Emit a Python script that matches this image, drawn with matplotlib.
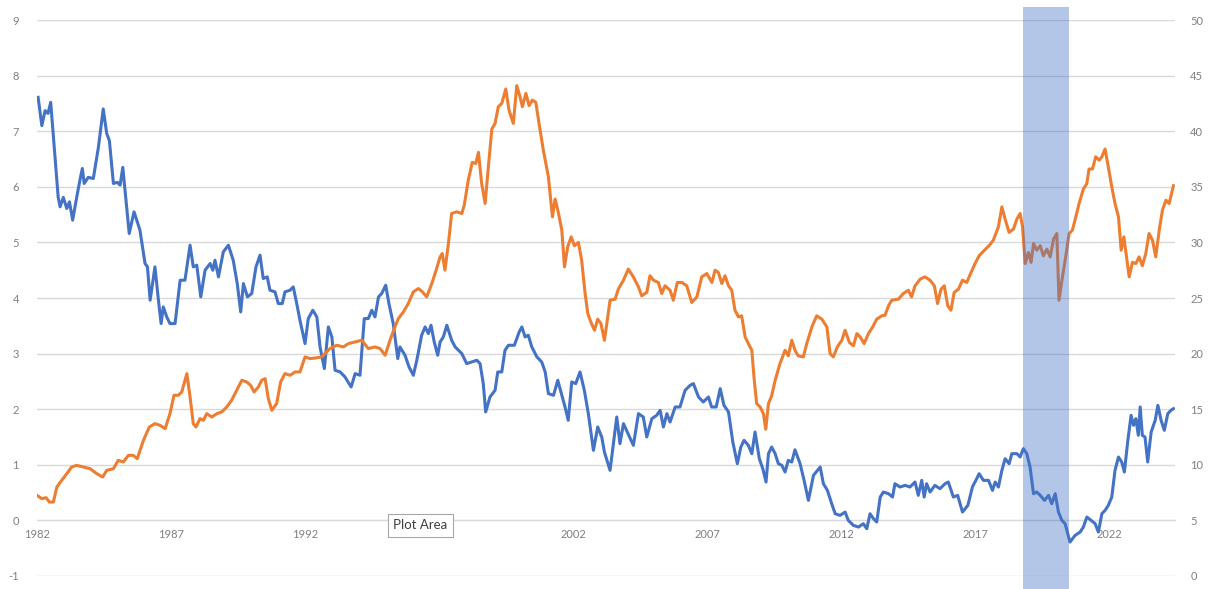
import matplotlib
matplotlib.use("Agg")
import matplotlib.pyplot as plt

plt.rcParams['font.family'] = ['Lato', 'DejaVu Sans']
plt.rcParams['axes.unicode_minus'] = False

# blue series, left axis (year, value)
blue_years = [1982.04, 1982.18, 1982.30, 1982.41, 1982.51, 1982.79, 1982.86, 1982.98, 1983.11, 1983.21,
              1983.33, 1983.48, 1983.60, 1983.69, 1983.76, 1983.91, 1984.10, 1984.29, 1984.47, 1984.60,
              1984.70, 1984.85, 1985.00, 1985.10, 1985.20, 1985.44, 1985.62, 1985.84, 1986.03, 1986.12,
              1986.22, 1986.40, 1986.53, 1986.63, 1986.71, 1986.84, 1986.96, 1987.15, 1987.34, 1987.52,
              1987.71, 1987.83, 1987.96, 1988.11, 1988.27, 1988.46, 1988.56, 1988.64, 1988.77, 1988.95,
              1989.14, 1989.32, 1989.47, 1989.60, 1989.70, 1989.85, 1990.01, 1990.17, 1990.32, 1990.44,
              1990.59, 1990.69, 1990.88, 1991.00, 1991.15, 1991.25, 1991.44, 1991.56, 1991.69, 1991.81,
              1992.00, 1992.12, 1992.29, 1992.44, 1992.56, 1992.72, 1992.87, 1993.00, 1993.12, 1993.31,
              1993.49, 1993.72, 1993.87, 1994.05, 1994.21, 1994.36, 1994.49, 1994.61, 1994.74, 1994.86,
              1995.01, 1995.13, 1995.29, 1995.46, 1995.54, 1995.73, 1995.88, 1996.04, 1996.17, 1996.35,
              1996.48, 1996.60, 1996.70, 1996.82, 1996.95, 1997.04, 1997.16, 1997.29, 1997.47, 1997.60,
              1997.85, 1998.03, 1998.22, 1998.41, 1998.53, 1998.65, 1998.74, 1998.90, 1999.09, 1999.19,
              1999.34, 1999.46, 1999.59, 1999.81, 1999.99, 2000.09, 2000.21, 2000.33, 2000.46, 2000.65,
              2000.83, 2000.96, 2001.08, 2001.27, 2001.43, 2001.58, 2001.70, 2001.82, 2001.95, 2002.10,
              2002.26, 2002.42, 2002.57, 2002.76, 2002.92, 2003.07, 2003.17, 2003.38, 2003.63, 2003.75,
              2003.88, 2004.25, 2004.44, 2004.62, 2004.75, 2004.94, 2005.12, 2005.25, 2005.37, 2005.50,
              2005.62, 2005.81, 2005.99, 2006.18, 2006.37, 2006.49, 2006.68, 2006.86, 2007.05, 2007.17,
              2007.34, 2007.49, 2007.63, 2007.80, 2007.96, 2008.13, 2008.26, 2008.38, 2008.54, 2008.67,
              2008.79, 2008.95, 2009.08, 2009.20, 2009.29, 2009.41, 2009.54, 2009.66, 2009.79, 2009.91,
              2010.03, 2010.16, 2010.28, 2010.47, 2010.62, 2010.78, 2010.97, 2011.22, 2011.34, 2011.49,
              2011.65, 2011.78, 2011.96, 2012.15, 2012.27, 2012.46, 2012.65, 2012.83, 2012.96, 2013.08,
              2013.21, 2013.33, 2013.46, 2013.58, 2013.77, 2013.92, 2014.01, 2014.20, 2014.39, 2014.57,
              2014.76, 2014.88, 2015.01, 2015.10, 2015.19, 2015.32, 2015.50, 2015.69, 2015.88, 2016.00,
              2016.19, 2016.35, 2016.53, 2016.73, 2016.90, 2017.06, 2017.15, 2017.31, 2017.50, 2017.65,
              2017.75, 2017.87, 2018.00, 2018.12, 2018.27, 2018.37, 2018.56, 2018.68, 2018.80, 2018.93,
              2019.05, 2019.18, 2019.30, 2019.43, 2019.59, 2019.74, 2019.86, 2019.99, 2020.11, 2020.24,
              2020.36, 2020.54, 2020.73, 2020.92, 2021.04, 2021.17, 2021.33, 2021.48, 2021.60, 2021.73,
              2021.85, 2021.97, 2022.10, 2022.22, 2022.35, 2022.47, 2022.57, 2022.70, 2022.82, 2022.91,
              2023.00, 2023.09, 2023.16, 2023.24, 2023.34, 2023.44, 2023.57, 2023.72, 2023.82, 2023.94,
              2024.06, 2024.19, 2024.31, 2024.40]
blue_vals = [7.61, 7.10, 7.37, 7.32, 7.52, 5.81, 5.64, 5.81, 5.61, 5.73,
             5.40, 5.81, 6.12, 6.33, 6.06, 6.17, 6.15, 6.71, 7.40, 6.96,
             6.83, 6.06, 6.08, 6.03, 6.35, 5.16, 5.55, 5.22, 4.62, 4.56,
             3.96, 4.56, 3.96, 3.54, 3.84, 3.66, 3.54, 3.54, 4.32, 4.32,
             4.95, 4.56, 4.59, 4.02, 4.50, 4.62, 4.50, 4.68, 4.38, 4.83,
             4.95, 4.68, 4.26, 3.75, 4.26, 4.02, 4.08, 4.56, 4.77, 4.35,
             4.38, 4.14, 4.11, 3.90, 3.90, 4.11, 4.14, 4.20, 3.90, 3.60,
             3.18, 3.63, 3.78, 3.66, 3.12, 2.73, 3.48, 3.30, 2.70, 2.67,
             2.58, 2.40, 2.64, 2.61, 3.63, 3.63, 3.78, 3.66, 4.02, 4.08,
             4.23, 3.90, 3.54, 2.91, 3.12, 2.97, 2.76, 2.61, 2.88, 3.33,
             3.48, 3.36, 3.51, 3.21, 2.97, 3.21, 3.30, 3.51, 3.24, 3.12,
             3.00, 2.82, 2.85, 2.88, 2.82, 2.46, 1.95, 2.22, 2.34, 2.67,
             2.67, 3.06, 3.15, 3.15, 3.39, 3.48, 3.30, 3.33, 3.12, 2.94,
             2.85, 2.67, 2.28, 2.25, 2.52, 2.25, 2.04, 1.80, 2.49, 2.46,
             2.67, 2.34, 1.92, 1.26, 1.68, 1.50, 1.23, 0.90, 1.86, 1.38,
             1.74, 1.35, 1.92, 1.86, 1.50, 1.83, 1.89, 1.98, 1.68, 1.92,
             1.77, 2.04, 2.04, 2.34, 2.43, 2.46, 2.22, 2.13, 2.22, 2.04,
             2.04, 2.37, 2.07, 1.95, 1.41, 1.02, 1.32, 1.44, 1.35, 1.20,
             1.59, 1.11, 0.93, 0.69, 1.20, 1.32, 1.20, 1.02, 0.99, 0.87,
             1.08, 1.05, 1.27, 1.02, 0.72, 0.36, 0.81, 0.96, 0.66, 0.54,
             0.30, 0.12, 0.09, 0.15, 0.00, -0.09, -0.12, -0.06, -0.15, 0.12,
             0.03, -0.03, 0.42, 0.51, 0.48, 0.42, 0.66, 0.60, 0.63, 0.60,
             0.69, 0.45, 0.72, 0.42, 0.66, 0.51, 0.63, 0.57, 0.66, 0.69,
             0.42, 0.45, 0.15, 0.27, 0.60, 0.75, 0.84, 0.72, 0.72, 0.54,
             0.69, 0.60, 0.90, 1.11, 1.02, 1.20, 1.20, 1.14, 1.29, 1.20,
             0.96, 0.48, 0.51, 0.45, 0.36, 0.45, 0.30, 0.48, 0.15, 0.00,
             -0.06, -0.39, -0.27, -0.21, -0.12, 0.06, 0.00, -0.06, -0.21, 0.12,
             0.18, 0.27, 0.42, 0.90, 1.14, 1.05, 0.87, 1.44, 1.89, 1.71,
             1.83, 1.53, 2.04, 1.53, 1.50, 1.05, 1.59, 1.80, 2.07, 1.80,
             1.62, 1.92, 1.98, 2.01]

# orange series, right axis (year, value)
orange_years = [1982.00, 1982.18, 1982.34, 1982.46, 1982.61, 1982.74, 1982.92, 1983.11, 1983.29, 1983.48,
                1983.73, 1983.98, 1984.23, 1984.45, 1984.60, 1984.85, 1985.03, 1985.22, 1985.41, 1985.59,
                1985.74, 1985.97, 1986.19, 1986.40, 1986.59, 1986.78, 1986.96, 1987.11, 1987.27, 1987.40,
                1987.59, 1987.71, 1987.83, 1987.93, 1988.08, 1988.21, 1988.33, 1988.52, 1988.71, 1988.89,
                1989.08, 1989.26, 1989.45, 1989.64, 1989.82, 1989.97, 1990.10, 1990.26, 1990.38, 1990.51,
                1990.63, 1990.76, 1990.94, 1991.09, 1991.25, 1991.44, 1991.63, 1991.81, 1992.00, 1992.19,
                1992.37, 1992.62, 1992.93, 1993.18, 1993.43, 1993.62, 1993.87, 1994.12, 1994.36, 1994.61,
                1994.80, 1994.99, 1995.17, 1995.33, 1995.48, 1995.67, 1995.85, 1996.04, 1996.23, 1996.38,
                1996.54, 1996.73, 1996.91, 1997.04, 1997.12, 1997.22, 1997.35, 1997.47, 1997.66, 1997.85,
                1997.94, 1998.09, 1998.24, 1998.37, 1998.47, 1998.59, 1998.72, 1998.84, 1998.97, 1999.09,
                1999.21, 1999.34, 1999.49, 1999.61, 1999.77, 1999.90, 2000.02, 2000.11, 2000.24, 2000.36,
                2000.48, 2000.61, 2000.73, 2000.89, 2001.08, 2001.23, 2001.33, 2001.45, 2001.58, 2001.68,
                2001.80, 2001.93, 2002.05, 2002.20, 2002.32, 2002.45, 2002.55, 2002.67, 2002.80, 2002.92,
                2003.04, 2003.17, 2003.26, 2003.38, 2003.57, 2003.69, 2003.88, 2004.06, 2004.25, 2004.44,
                2004.56, 2004.75, 2004.87, 2005.00, 2005.18, 2005.31, 2005.43, 2005.62, 2005.74, 2005.89,
                2006.06, 2006.24, 2006.43, 2006.62, 2006.80, 2006.99, 2007.18, 2007.30, 2007.42, 2007.55,
                2007.67, 2007.80, 2007.92, 2008.04, 2008.17, 2008.29, 2008.42, 2008.54, 2008.67, 2008.75,
                2008.85, 2008.98, 2009.10, 2009.19, 2009.29, 2009.41, 2009.54, 2009.72, 2009.91, 2010.03,
                2010.16, 2010.28, 2010.40, 2010.59, 2010.72, 2010.91, 2011.09, 2011.28, 2011.47, 2011.59,
                2011.71, 2011.86, 2012.03, 2012.15, 2012.31, 2012.46, 2012.59, 2012.71, 2012.86, 2013.02,
                2013.18, 2013.33, 2013.52, 2013.64, 2013.77, 2013.89, 2014.14, 2014.32, 2014.51, 2014.63,
                2014.76, 2014.95, 2015.13, 2015.32, 2015.48, 2015.60, 2015.73, 2015.85, 2015.98, 2016.10,
                2016.22, 2016.38, 2016.53, 2016.69, 2016.85, 2017.00, 2017.15, 2017.35, 2017.52, 2017.68,
                2017.87, 2018.00, 2018.12, 2018.27, 2018.43, 2018.56, 2018.68, 2018.77, 2018.87, 2018.99,
                2019.09, 2019.18, 2019.30, 2019.43, 2019.55, 2019.68, 2019.80, 2019.93, 2020.05, 2020.13,
                2020.26, 2020.38, 2020.51, 2020.63, 2020.76, 2020.88, 2021.04, 2021.17, 2021.25, 2021.38,
                2021.50, 2021.63, 2021.73, 2021.85, 2021.97, 2022.10, 2022.22, 2022.35, 2022.45, 2022.55,
                2022.65, 2022.75, 2022.87, 2023.00, 2023.12, 2023.24, 2023.37, 2023.49, 2023.62, 2023.74,
                2023.87, 2023.99, 2024.12, 2024.24, 2024.40]
orange_vals = [7.25, 6.95, 7.04, 6.65, 6.65, 8.0, 8.6, 9.2, 9.8, 9.95,
               9.8, 9.65, 9.2, 8.9, 9.5, 9.65, 10.4, 10.25, 10.85, 10.85,
               10.55, 12.2, 13.4, 13.7, 13.55, 13.25, 14.6, 16.25, 16.25, 16.55,
               18.2, 16.1, 13.7, 13.4, 14.15, 14.0, 14.6, 14.3, 14.6, 14.75,
               15.2, 15.8, 16.7, 17.6, 17.45, 17.15, 16.55, 17.0, 17.6, 17.75,
               15.95, 14.9, 15.5, 17.45, 18.2, 18.05, 18.35, 18.35, 19.7, 19.55,
               19.6, 19.7, 20.45, 20.75, 20.6, 20.9, 21.05, 21.2, 20.45, 20.6,
               20.45, 19.85, 21.2, 22.25, 23.15, 23.75, 24.5, 25.55, 25.85, 25.55,
               25.1, 26.3, 27.65, 28.7, 29.0, 27.5, 29.9, 32.6, 32.75, 32.6,
               33.35, 35.6, 37.2, 37.1, 38.1, 35.3, 33.5, 36.8, 40.2, 40.7,
               42.2, 42.5, 43.8, 41.9, 40.7, 44.1, 43.1, 42.2, 43.4, 42.3,
               42.8, 42.6, 40.7, 38.3, 35.9, 32.3, 33.9, 32.7, 31.1, 27.8,
               29.6, 30.5, 29.7, 30.0, 28.4, 25.4, 23.6, 22.8, 22.1, 23.1,
               22.7, 21.2, 22.7, 24.8, 24.9, 25.8, 26.6, 27.6, 26.9, 26.0,
               25.2, 25.5, 27.0, 26.6, 26.4, 25.4, 26.1, 25.7, 24.8, 26.4,
               26.4, 26.1, 24.6, 25.1, 26.9, 27.2, 26.4, 27.5, 27.3, 26.3,
               27.0, 26.1, 25.7, 23.9, 23.3, 23.4, 21.5, 20.9, 20.3, 17.9,
               15.5, 15.2, 14.6, 13.2, 15.5, 16.2, 17.6, 19.1, 20.3, 19.8,
               21.2, 20.3, 19.8, 19.7, 20.9, 22.4, 23.4, 23.1, 22.4, 20.0,
               19.7, 20.6, 21.2, 22.1, 21.0, 20.7, 21.8, 21.5, 20.9, 21.8,
               22.4, 23.1, 23.4, 23.45, 24.3, 24.8, 24.9, 25.4, 25.7, 25.1,
               26.1, 26.7, 26.9, 26.6, 26.1, 24.5, 25.8, 26.1, 24.3, 23.9,
               25.5, 25.8, 26.6, 26.4, 27.3, 28.1, 28.8, 29.3, 29.7, 30.2,
               31.4, 33.2, 32.1, 30.9, 31.2, 32.1, 32.6, 31.4, 28.1, 29.1,
               28.2, 29.9, 29.3, 29.7, 28.8, 29.4, 28.7, 30.3, 30.8, 24.8,
               26.9, 28.7, 30.8, 31.1, 32.3, 33.5, 34.8, 35.3, 36.6, 36.6,
               37.7, 37.4, 37.7, 38.4, 36.8, 35.0, 33.5, 32.3, 29.3, 30.5,
               28.7, 26.9, 28.2, 28.1, 28.7, 27.9, 29.0, 30.8, 30.2, 28.7,
               31.1, 32.9, 33.8, 33.5, 35.1]

x_ticks = [1982, 1987, 1992, 1997, 2002, 2007, 2012, 2017, 2022]
left_ticks = list(range(-1, 10))
right_ticks = list(range(0, 55, 5))
band = (2018.77, 2020.52)

blue = '#4472C4'
orange = '#ED7D31'
grid = '#D9D9D9'
label_col = '#7F7F7F'

fig = plt.figure(figsize=(12.1, 5.89), dpi=100)
ax = fig.add_axes([0.0306, 0.0221, 0.9405, 0.9439])
ax2 = ax.twinx()

ax.plot(blue_years, blue_vals, color=blue, lw=2.2, solid_joinstyle='round', zorder=3)
ax2.plot(orange_years, orange_vals, color=orange, lw=2.2, solid_joinstyle='round', zorder=3)

ax.set_xlim(1982, 2024.46)
ax.set_ylim(-1, 9)
ax2.set_ylim(0, 50)

ax.set_yticks(left_ticks)
ax2.set_yticks(right_ticks)
ax.set_xticks(x_ticks)
ax.set_xticklabels([str(y) for y in x_ticks])

ax.grid(axis='y', color=grid, lw=1.0)
ax.set_axisbelow(True)

for s in ['top', 'left', 'right']:
    ax.spines[s].set_visible(False)
for s in ['top', 'left', 'right', 'bottom']:
    ax2.spines[s].set_visible(False)
ax.spines['bottom'].set_position(('data', 0))
ax.spines['bottom'].set_color(grid)

ax.tick_params(axis='y', length=0, pad=13, labelsize=8, labelcolor=label_col)
ax.tick_params(axis='x', length=0, pad=6, labelsize=8, labelcolor=label_col)
ax2.tick_params(axis='y', length=0, pad=11, labelsize=8, labelcolor=label_col)

# shaded period, drawn over both lines
ax2.axvspan(band[0], band[1], ymin=-0.024, ymax=1.024, color=blue, alpha=0.4,
            lw=0, zorder=5, clip_on=False)

# the "Plot Area" tooltip from the screenshot
fig.text(0.3475, 0.108, 'Plot Area', ha='center', va='center', fontsize=9.5, color='#404040',
         bbox=dict(boxstyle='square,pad=0.4', fc='white', ec='#A6A6A6', lw=0.8), zorder=10)

fig.savefig('out.png', dpi=100)
